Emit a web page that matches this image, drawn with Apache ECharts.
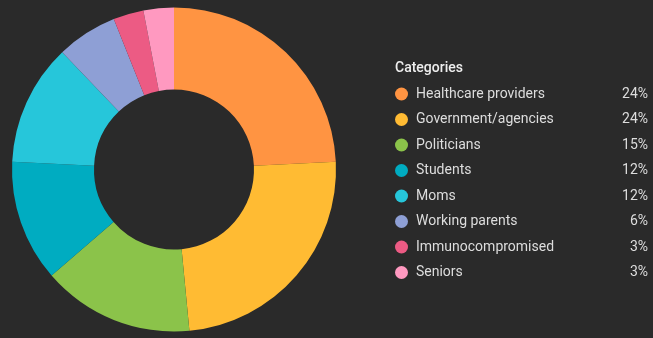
<!DOCTYPE html>
<html><head><meta charset="utf-8">
<script src="https://cdn.jsdelivr.net/npm/echarts@6/dist/echarts.min.js"></script>
<style>html,body{margin:0;padding:0;background:#2a2a2a;}#c{width:653px;height:338px;}</style>
</head><body><div id="c"></div>
<script>
const categories = ["Healthcare providers","Government/agencies","Politicians","Students","Moms","Working parents","Immunocompromised","Seniors"];
const values = [24,24,15,12,12,6,3,3];
const colors = ["#FF9442","#FFBB33","#8BC34A","#00ACC1","#26C6DA","#8E9FD5","#EC5B84","#FF99C0"];

const chart = echarts.init(document.getElementById('c'));
const pctMap = {};
categories.forEach((c,i)=>pctMap[c]=values[i]);
chart.setOption({
  backgroundColor:'#2a2a2a',
  animation:false,
  color:colors,
  title:{text:'Categories',left:395,top:61.5,padding:0,textStyle:{color:'#eeeeee',fontSize:14,fontWeight:500,fontFamily:'Roboto'}},
  legend:{
    orient:'vertical',left:395,top:87,padding:0,icon:'circle',itemWidth:13,itemHeight:13,itemGap:11.5,
    selectedMode:false,
    formatter:function(n){return '{n|'+n+'}{v|'+pctMap[n]+'%}';},
    textStyle:{color:'#dddddd',fontFamily:'Roboto',fontSize:14,padding:[0,0,0,3],
      rich:{n:{width:198,color:'#dddddd',fontSize:14,fontFamily:'Roboto',lineHeight:14},
            v:{width:34,align:'right',color:'#dddddd',fontSize:14,fontFamily:'Roboto',lineHeight:14}}}
  },
  series:[{
    type:'pie',center:[174,169.5],radius:[80,162],startAngle:90,clockwise:true,
    label:{show:false},labelLine:{show:false},silent:true,
    itemStyle:{borderWidth:0},
    data:categories.map((c,i)=>({name:c,value:values[i]}))
  }]
});
</script></body></html>
